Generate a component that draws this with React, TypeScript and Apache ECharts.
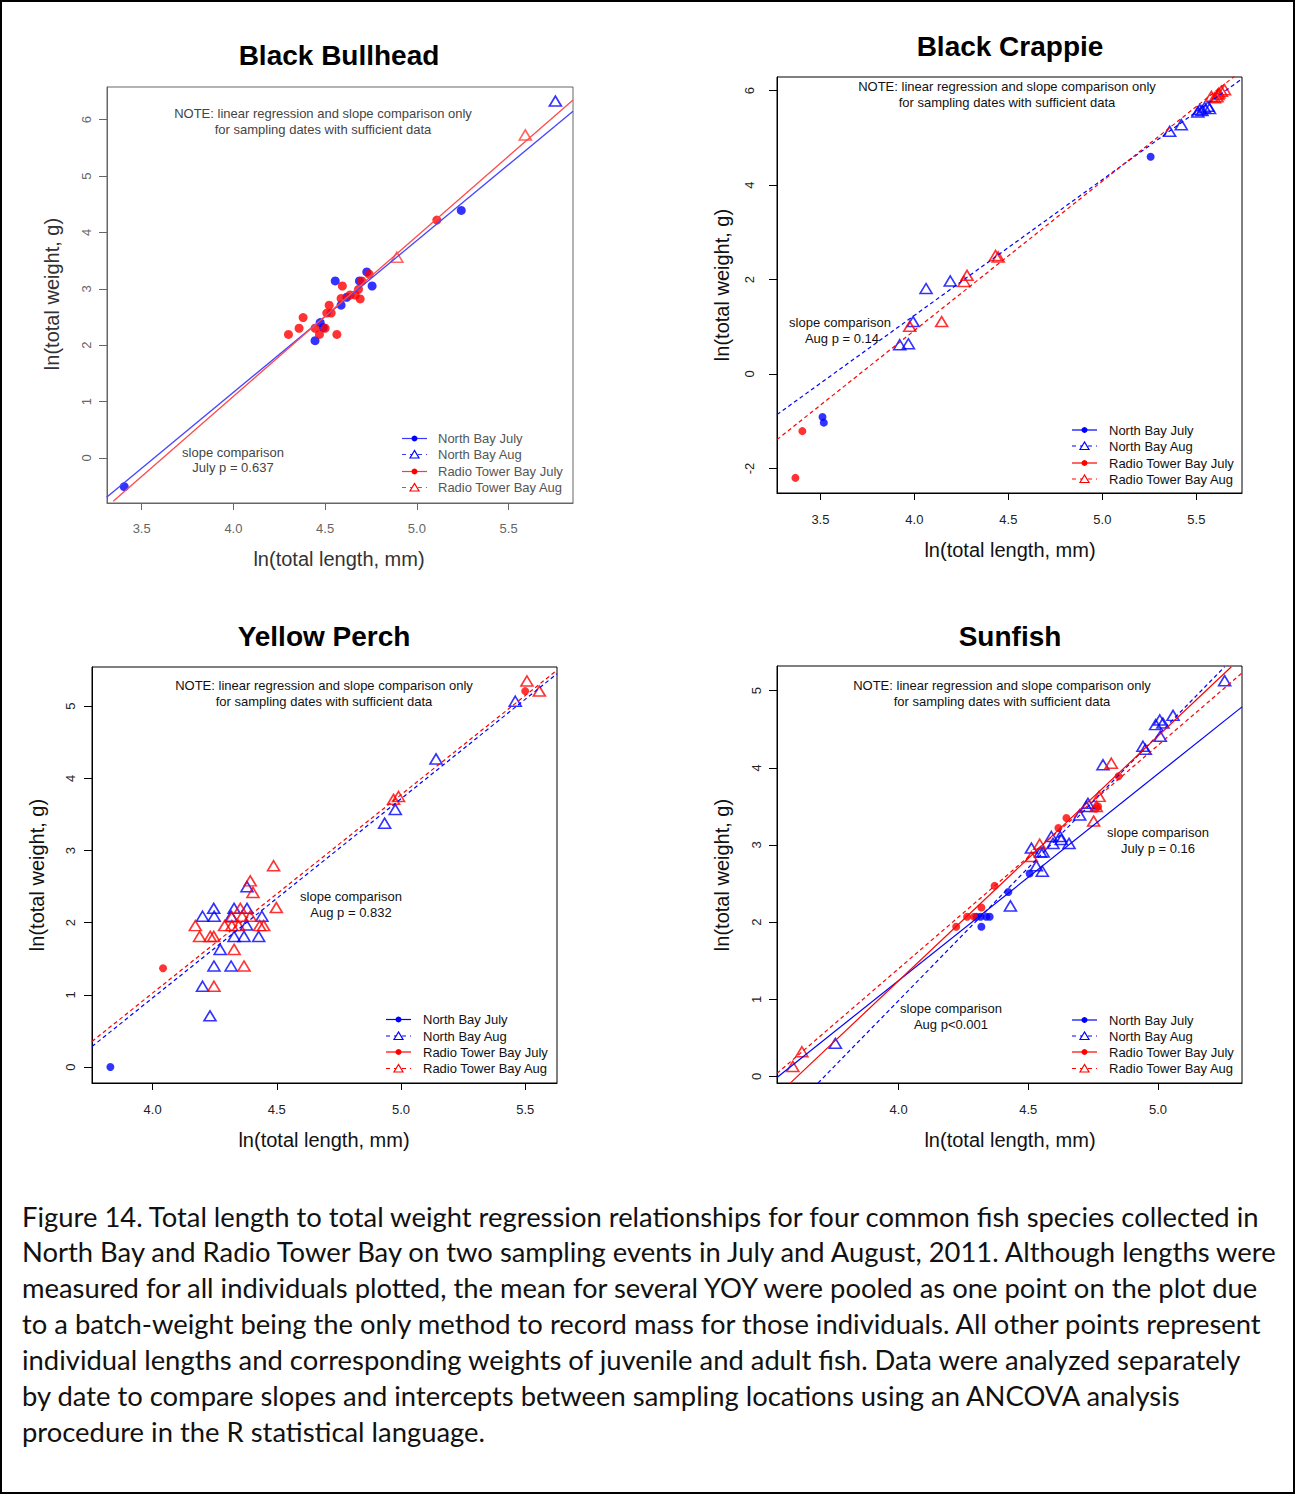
import React, { useEffect, useRef } from "react";
import * as echarts from "echarts";

// ---------------- DATA ----------------
const legendLabels = ["North Bay July", "North Bay Aug", "Radio Tower Bay July", "Radio Tower Bay Aug"];
const panelTitles = ["Black Bullhead", "Black Crappie", "Yellow Perch", "Sunfish"];
const xAxisTitle = "ln(total length, mm)";
const yAxisTitle = "ln(total weight, g)";
const noteLines = ["NOTE: linear regression and slope comparison only", "for sampling dates with sufficient data"];

// Black Bullhead
const bbXTicks = [3.5, 4.0, 4.5, 5.0, 5.5];
const bbYTicks = [0, 1, 2, 3, 4, 5, 6];
const bbNorthJuly = [[3.405, -0.51], [4.445, 2.08], [4.473, 2.40], [4.49, 2.31], [4.555, 3.14], [4.587, 2.71], [4.618, 2.85], [4.687, 3.14], [4.727, 3.30], [4.756, 3.05], [5.242, 4.39]];
const bbNorthAug = [[5.755, 6.33]];
const bbRadioJuly = [[4.300, 2.19], [4.358, 2.30], [4.380, 2.49], [4.445, 2.30], [4.469, 2.19], [4.500, 2.30], [4.564, 2.19], [4.509, 2.57], [4.533, 2.57], [4.522, 2.71], [4.587, 2.83], [4.594, 3.05], [4.636, 2.89], [4.664, 2.89], [4.691, 2.82], [4.682, 2.99], [4.700, 3.14], [4.740, 3.26], [5.109, 4.22]];
const bbRadioAug = [[4.891, 3.56], [5.591, 5.73]];
const bbFitNorthJuly = [[3.309, -0.70], [5.851, 6.15]];
const bbFitRadioJuly = [[3.345, -0.77], [5.851, 6.35]];
const bbSlopeText = ["slope comparison", "July p = 0.637"];

// Black Crappie
const bcXTicks = [3.5, 4.0, 4.5, 5.0, 5.5];
const bcYTicks = [-2, 0, 2, 4, 6];
const bcNorthJuly = [[3.511, -0.91], [3.518, -1.03], [5.257, 4.60]];
const bcNorthAug = [[3.922, 0.62], [3.968, 0.64], [3.993, 1.11], [4.062, 1.81], [4.191, 1.97], [5.358, 5.14], [5.420, 5.28], [5.508, 5.55], [5.518, 5.60], [5.530, 5.58], [5.544, 5.64], [5.562, 5.67], [5.570, 5.62]];
const bcRadioJuly = [[3.404, -1.21], [3.367, -2.20]];
const bcRadioAug = [[3.975, 1.01], [4.145, 1.11], [4.264, 1.96], [4.280, 2.09], [4.432, 2.51], [4.446, 2.48], [5.580, 5.88], [5.597, 5.85], [5.610, 5.87], [5.615, 5.92], [5.620, 5.95], [5.633, 5.99], [5.650, 6.02]];
const bcFitNorthAug = [[3.269, -0.86], [5.739, 6.24]];
const bcFitRadioAug = [[3.269, -1.39], [5.704, 6.31]];
const bcSlopeText = ["slope comparison", "Aug p = 0.14"];

// Yellow Perch
const ypXTicks = [4.0, 4.5, 5.0, 5.5];
const ypYTicks = [0, 1, 2, 3, 4, 5];
const ypNorthJuly = [[3.830, 0.0]];
const ypRadioJuly = [[4.042, 1.37], [5.500, 5.21]];
const ypNorthAug = [[5.460, 5.07], [5.141, 4.27], [4.977, 3.57], [4.934, 3.38], [4.380, 2.50], [4.246, 2.20], [4.201, 2.09], [4.248, 2.09], [4.328, 2.20], [4.380, 2.20], [4.316, 2.09], [4.440, 2.09], [4.378, 1.97], [4.328, 1.81], [4.368, 1.81], [4.427, 1.81], [4.272, 1.63], [4.247, 1.40], [4.316, 1.40], [4.201, 1.12], [4.231, 0.71]];
const ypRadioAug = [[5.507, 5.35], [5.557, 5.21], [4.970, 3.71], [4.990, 3.75], [4.487, 2.79], [4.393, 2.58], [4.404, 2.42], [4.498, 2.21], [4.172, 1.96], [4.189, 1.81], [4.232, 1.81], [4.246, 1.81], [4.290, 1.96], [4.319, 1.96], [4.319, 2.08], [4.353, 2.20], [4.360, 2.09], [4.393, 2.09], [4.431, 1.96], [4.447, 1.96], [4.346, 1.96], [4.328, 1.63], [4.368, 1.40], [4.247, 1.12]];
const ypFitNorthAug = [[3.756, 0.285], [5.628, 5.45]];
const ypFitRadioAug = [[3.756, 0.355], [5.628, 5.50]];
const ypSlopeText = ["slope comparison", "Aug p = 0.832"];

// Sunfish
const sfXTicks = [4.0, 4.5, 5.0];
const sfYTicks = [0, 1, 2, 3, 4, 5];
const sfNorthJuly = [[4.300, 2.07], [4.316, 2.07], [4.319, 1.94], [4.338, 2.07], [4.351, 2.07], [4.423, 2.39], [4.505, 2.63]];
const sfRadioJuly = [[4.222, 1.94], [4.264, 2.07], [4.291, 2.07], [4.319, 2.19], [4.370, 2.47], [4.616, 3.22], [4.647, 3.35], [4.760, 3.47], [4.769, 3.50], [4.848, 3.89]];
const sfNorthAug = [[3.756, 0.43], [4.431, 2.21], [4.531, 2.73], [4.554, 2.66], [4.512, 2.96], [4.547, 2.91], [4.557, 2.91], [4.589, 3.11], [4.595, 3.02], [4.623, 3.11], [4.627, 3.07], [4.657, 3.02], [4.698, 3.39], [4.724, 3.50], [4.730, 3.54], [4.788, 4.04], [4.942, 4.28], [4.951, 4.24], [4.991, 4.56], [5.007, 4.62], [5.019, 4.58], [5.009, 4.41], [5.058, 4.68], [5.257, 5.13]];
const sfRadioAug = [[3.592, 0.13], [3.627, 0.32], [4.512, 2.85], [4.544, 3.01], [4.752, 3.31], [4.762, 3.50], [4.773, 3.63], [4.820, 4.06]];
const sfFitNorthJuly = [[3.531, -0.013], [5.324, 4.79]];
const sfFitNorthAug = [[3.689, -0.086], [5.257, 5.31]];
const sfFitRadioJuly = [[3.582, -0.086], [5.283, 5.31]];
const sfFitRadioAug = [[3.531, 0.04], [5.324, 5.23]];
const sfSlopeTextJuly = ["slope comparison", "July p = 0.16"];
const sfSlopeTextAug = ["slope comparison", "Aug p<0.001"];

const captionLines = [
  "Figure 14. Total length to total weight regression relationships for four common fish species collected in",
  "North Bay and Radio Tower Bay on two sampling events in July and August, 2011. Although lengths were",
  "measured for all individuals plotted, the mean for several YOY were pooled as one point on the plot due",
  "to a batch-weight being the only method to record mass for those individuals. All other points represent",
  "individual lengths and corresponding weights of juvenile and adult fish. Data were analyzed separately",
  "by date to compare slopes and intercepts between sampling locations using an ANCOVA analysis",
  "procedure in the R statistical language.",
];

// ---------------- STYLE / LAYOUT ----------------
const BLUE = "#0000ff";
const RED = "#ff0000";
const FONT = "Liberation Sans";

type PanelCfg = {
  grid: { left: number; top: number; width: number; height: number };
  xr: [number, number];
  yr: [number, number];
  xTicks: number[];
  yTicks: number[];
  xMargin: number;
  yMargin: number;
  boxColor: string;
  tickColor: string;
  textColor: string;
  title: { x: number; y: number };
  xTitle: { x: number; y: number };
  yTitle: { x: number; y: number };
  note: { x: number; y: number };
  legend: { l1: number; l2: number; tx: number; rows: number[]; color: string };
  light: boolean;
};

const panels: PanelCfg[] = [
  {
    grid: { left: 107, top: 87, width: 466, height: 416 }, xr: [3.311, 5.851], yr: [-0.8, 6.58],
    xTicks: bbXTicks, yTicks: bbYTicks, xMargin: 19, yMargin: 14,
    boxColor: "#666", tickColor: "#666", textColor: "#444",
    title: { x: 339, y: 55 }, xTitle: { x: 339, y: 559 }, yTitle: { x: 52, y: 294 },
    note: { x: 323, y: 113 },
    legend: { l1: 402, l2: 427, tx: 438, rows: [438.5, 454.5, 471.5, 487.5], color: "#555" },
    light: true,
  },
  {
    grid: { left: 777, top: 77, width: 465, height: 416 }, xr: [3.269, 5.743], yr: [-2.52, 6.29],
    xTicks: bcXTicks, yTicks: bcYTicks, xMargin: 20, yMargin: 21,
    boxColor: "#000", tickColor: "#000", textColor: "#111",
    title: { x: 1010, y: 46 }, xTitle: { x: 1010, y: 550 }, yTitle: { x: 722, y: 285 },
    note: { x: 1007, y: 86 },
    legend: { l1: 1072, l2: 1097, tx: 1109, rows: [430, 446, 463, 479], color: "#111" },
    light: false,
  },
  {
    grid: { left: 92, top: 667, width: 465, height: 416 }, xr: [3.756, 5.628], yr: [-0.221, 5.544],
    xTicks: ypXTicks, yTicks: ypYTicks, xMargin: 20, yMargin: 15,
    boxColor: "#000", tickColor: "#000", textColor: "#111",
    title: { x: 324, y: 636 }, xTitle: { x: 324, y: 1140 }, yTitle: { x: 37, y: 875 },
    note: { x: 324, y: 685 },
    legend: { l1: 386, l2: 411, tx: 423, rows: [1019.5, 1036, 1052, 1068.5], color: "#111" },
    light: false,
  },
  {
    grid: { left: 777, top: 666, width: 465, height: 417 }, xr: [3.531, 5.324], yr: [-0.085, 5.32],
    xTicks: sfXTicks, yTicks: sfYTicks, xMargin: 20, yMargin: 14,
    boxColor: "#000", tickColor: "#000", textColor: "#111",
    title: { x: 1010, y: 636 }, xTitle: { x: 1010, y: 1140 }, yTitle: { x: 722, y: 875 },
    note: { x: 1002, y: 685 },
    legend: { l1: 1072, l2: 1097, tx: 1109, rows: [1020, 1036, 1052, 1068.5], color: "#111" },
    light: false,
  },
];

// ---------------- HELPERS ----------------
function txt(text: string, x: number, y: number, o: any = {}) {
  return {
    type: "text",
    x, y,
    rotation: o.rot || 0,
    silent: true,
    z: 10,
    style: {
      text,
      x: 0, y: 0,
      fontSize: o.size || 13,
      fontFamily: o.family || FONT,
      fontWeight: o.weight || "normal",
      fill: o.color || "#111",
      textAlign: o.align || "center",
      textVerticalAlign: "middle",
      align: o.align || "center",
      verticalAlign: "middle",
    },
  };
}

function dots(data: number[][], color: string, size: number, i: number) {
  return {
    type: "scatter", xAxisIndex: i, yAxisIndex: i, data, symbol: "circle", symbolSize: size,
    itemStyle: { color }, silent: true, z: 3,
  };
}
function tris(data: number[][], color: string, i: number) {
  return {
    type: "scatter", xAxisIndex: i, yAxisIndex: i, data, symbol: "triangle", symbolSize: [12, 10],
    itemStyle: { color: "rgba(255,255,255,0)", borderColor: color, borderWidth: 1.6 }, silent: true, z: 3,
  };
}
function fit(data: number[][], color: string, dashed: boolean, i: number, width = 1.2) {
  return {
    type: "line", xAxisIndex: i, yAxisIndex: i, data, symbol: "none", showSymbol: false, clip: true,
    lineStyle: { color, width, type: dashed ? [4, 3] : "solid" }, silent: true, z: 4,
  };
}

function legendGraphics(p: PanelCfg) {
  const out: any[] = [];
  const L = p.legend;
  const colors = [BLUE, BLUE, RED, RED];
  const dashed = [false, true, false, true];
  const lc = p.light ? ["#3a3aff", "#3a3aff", "#ff3a3a", "#ff3a3a"] : colors;
  L.rows.forEach((y, k) => {
    out.push({
      type: "line", silent: true, z: 10,
      shape: { x1: L.l1, y1: y, x2: L.l2, y2: y },
      style: { stroke: lc[k], lineWidth: 1.2, lineDash: dashed[k] ? [4, 4] : null },
    });
    const cx = (L.l1 + L.l2) / 2;
    if (!dashed[k]) {
      out.push({ type: "circle", silent: true, z: 11, shape: { cx, cy: y, r: 3 }, style: { fill: colors[k] } });
    } else {
      out.push({
        type: "polygon", silent: true, z: 11,
        shape: { points: [[cx, y - 4], [cx - 4.5, y + 3.5], [cx + 4.5, y + 3.5]] },
        style: { fill: "#fff", stroke: colors[k], lineWidth: 1.2 },
      });
    }
    out.push(txt(legendLabels[k], L.tx, y, { align: "left", color: L.color, size: 13 }));
  });
  return out;
}

function buildOption() {
  const grids: any[] = [];
  const xAxes: any[] = [];
  const yAxes: any[] = [];
  const graphic: any[] = [];

  panels.forEach((p, i) => {
    grids.push({ ...p.grid, show: true, borderColor: p.boxColor, borderWidth: 1, backgroundColor: "transparent", containLabel: false });
    xAxes.push({
      type: "value", gridIndex: i, min: p.xr[0], max: p.xr[1],
      axisLine: { show: true, onZero: false, lineStyle: { color: p.boxColor, width: 1 } },
      axisTick: { show: true, inside: false, length: 7, customValues: p.xTicks, lineStyle: { color: p.tickColor, width: 1 } },
      axisLabel: {
        show: true, customValues: p.xTicks, margin: p.xMargin, fontSize: 13, fontFamily: FONT,
        color: p.light ? "#666" : "#222", formatter: (v: number) => v.toFixed(1),
      },
      splitLine: { show: false },
    });
    yAxes.push({
      type: "value", gridIndex: i, min: p.yr[0], max: p.yr[1],
      axisLine: { show: true, onZero: false, lineStyle: { color: p.boxColor, width: 1 } },
      axisTick: { show: true, inside: false, length: 8, customValues: p.yTicks, lineStyle: { color: p.tickColor, width: 1 } },
      axisLabel: {
        show: true, customValues: p.yTicks, margin: p.yMargin, fontSize: 13, fontFamily: FONT, rotate: 90,
        color: p.light ? "#666" : "#222", formatter: (v: number) => String(Math.round(v)),
      },
      splitLine: { show: false },
    });

    graphic.push(txt(panelTitles[i], p.title.x, p.title.y, { size: 28, weight: "bold", color: "#000" }));
    graphic.push(txt(xAxisTitle, p.xTitle.x, p.xTitle.y, { size: 20, color: p.light ? "#333" : "#111" }));
    graphic.push(txt(yAxisTitle, p.yTitle.x, p.yTitle.y, { size: 20, color: p.light ? "#333" : "#111", rot: Math.PI / 2 }));
    graphic.push(txt(noteLines[0], p.note.x, p.note.y, { size: 13, color: p.textColor }));
    graphic.push(txt(noteLines[1], p.note.x, p.note.y + 16, { size: 13, color: p.textColor }));
    graphic.push(...legendGraphics(p));
  });

  // slope comparison annotations
  graphic.push(txt(bbSlopeText[0], 233, 452, { color: "#444" }));
  graphic.push(txt(bbSlopeText[1], 233, 467.5, { color: "#444" }));
  graphic.push(txt(bcSlopeText[0], 840, 322));
  graphic.push(txt(bcSlopeText[1], 842, 338));
  graphic.push(txt(ypSlopeText[0], 351, 896));
  graphic.push(txt(ypSlopeText[1], 351, 912));
  graphic.push(txt(sfSlopeTextJuly[0], 1158, 832));
  graphic.push(txt(sfSlopeTextJuly[1], 1158, 848));
  graphic.push(txt(sfSlopeTextAug[0], 951, 1008.5));
  graphic.push(txt(sfSlopeTextAug[1], 951, 1024.5));

  // caption
  captionLines.forEach((line, k) => {
    graphic.push(txt(line, 22, 1216 + k * 35.9, { size: 27.4, family: "Lato", align: "left", color: "#111" }));
  });

  // outer frame
  graphic.push({
    type: "rect", silent: true, z: 20,
    shape: { x: 1, y: 1, width: 1293, height: 1492 },
    style: { fill: "none", stroke: "#000", lineWidth: 2 },
  });

  const LB = "#4545ff";
  const LR = "#ff4a4a";
  const series: any[] = [
    // Black Bullhead
    dots(bbNorthJuly, BLUE, 9, 0),
    dots(bbRadioJuly, RED, 9, 0),
    tris(bbNorthAug, BLUE, 0),
    tris(bbRadioAug, "#ff4040", 0),
    fit(bbFitNorthJuly, LB, false, 0, 1.3),
    fit(bbFitRadioJuly, LR, false, 0, 1.3),
    // Black Crappie
    dots(bcNorthJuly, BLUE, 8, 1),
    dots(bcRadioJuly, RED, 8, 1),
    tris(bcNorthAug, BLUE, 1),
    tris(bcRadioAug, RED, 1),
    fit(bcFitNorthAug, BLUE, true, 1),
    fit(bcFitRadioAug, RED, true, 1),
    // Yellow Perch
    dots(ypNorthJuly, BLUE, 8, 2),
    dots(ypRadioJuly, RED, 8, 2),
    tris(ypNorthAug, BLUE, 2),
    tris(ypRadioAug, RED, 2),
    fit(ypFitNorthAug, BLUE, true, 2),
    fit(ypFitRadioAug, RED, true, 2),
    // Sunfish
    dots(sfNorthJuly, BLUE, 8, 3),
    dots(sfRadioJuly, RED, 8, 3),
    tris(sfNorthAug, BLUE, 3),
    tris(sfRadioAug, RED, 3),
    fit(sfFitNorthJuly, BLUE, false, 3),
    fit(sfFitNorthAug, BLUE, true, 3),
    fit(sfFitRadioJuly, RED, false, 3),
    fit(sfFitRadioAug, RED, true, 3),
  ];

  return {
    animation: false,
    backgroundColor: "#fff",
    textStyle: { fontFamily: FONT },
    grid: grids,
    xAxis: xAxes,
    yAxis: yAxes,
    series,
    graphic: { elements: graphic },
  };
}

export default function App() {
  const ref = useRef<HTMLDivElement>(null);
  useEffect(() => {
    if (!ref.current) return;
    const chart = echarts.init(ref.current, null, { renderer: "svg" });
    chart.setOption(buildOption() as any);
    return () => chart.dispose();
  }, []);
  return (
    <div
      ref={ref}
      style={{ position: "absolute", left: 0, top: 0, width: 1296, height: 1495, background: "#fff" }}
    />
  );
}
